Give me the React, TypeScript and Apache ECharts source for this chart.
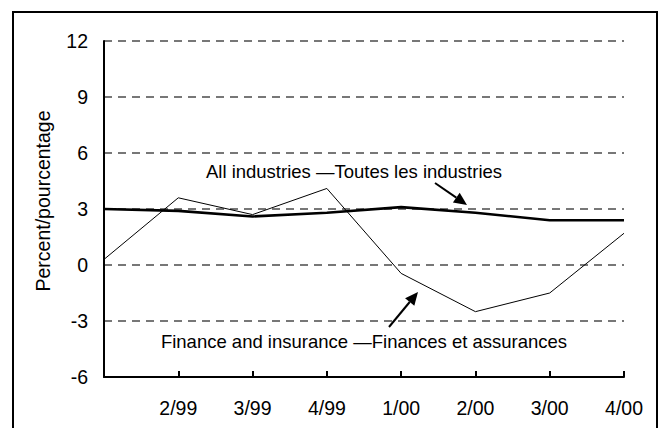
import React, { useEffect, useRef } from "react";
import * as echarts from "echarts";

const categories = ["1/99", "2/99", "3/99", "4/99", "1/00", "2/00", "3/00", "4/00"];
const allIndustries = [3.0, 2.9, 2.6, 2.8, 3.1, 2.8, 2.4, 2.4];
const financeInsurance = [0.3, 3.6, 2.7, 4.1, -0.45, -2.5, -1.5, 1.7];
const yMin = -6;
const yMax = 12;
const yInterval = 3;
const yAxisName = "Percent/pourcentage";
const labelAll = "All industries —Toutes les industries";
const labelFinance = "Finance and insurance —Finances et assurances";

const FONT = "'Liberation Sans', Arial, sans-serif";

function arrow(x1: number, y1: number, x2: number, y2: number) {
  const ang = Math.atan2(y2 - y1, x2 - x1);
  const len = 13;
  const half = 6;
  const bx = x2 - len * Math.cos(ang);
  const by = y2 - len * Math.sin(ang);
  const px = -Math.sin(ang) * half;
  const py = Math.cos(ang) * half;
  return [
    {
      type: "line",
      shape: { x1, y1, x2: bx, y2: by },
      style: { stroke: "#000", lineWidth: 2 },
    },
    {
      type: "polygon",
      shape: {
        points: [
          [x2, y2],
          [bx + px, by + py],
          [bx - px, by - py],
        ],
      },
      style: { fill: "#000" },
    },
  ];
}

export default function App() {
  const ref = useRef<HTMLDivElement>(null);
  useEffect(() => {
    document.body.style.margin = "0";
    const chart = echarts.init(ref.current!, null, { renderer: "svg" });
    chart.setOption({
      animation: false,
      backgroundColor: "#fff",
      grid: { left: 104, right: 41, top: 41, bottom: 51, containLabel: false },
      xAxis: {
        type: "category",
        data: categories,
        boundaryGap: false,
        axisLine: { show: true, onZero: false, lineStyle: { color: "#000", width: 2 } },
        axisTick: { show: true, inside: true, length: 6, lineStyle: { color: "#000", width: 2 } },
        axisLabel: {
          interval: (i: number) => i > 0,
          color: "#000",
          fontFamily: FONT,
          fontSize: 19.5,
          margin: 21,
        },
        splitLine: { show: false },
      },
      yAxis: {
        type: "value",
        min: yMin,
        max: yMax,
        interval: yInterval,
        name: yAxisName,
        nameLocation: "middle",
        nameGap: 51,
        nameTextStyle: {
          color: "#000",
          fontFamily: FONT,
          fontSize: 19.5,
          padding: [0, 0, 0, 16],
        },
        axisLine: { show: true, onZero: false, lineStyle: { color: "#000", width: 2 } },
        axisTick: { show: false },
        axisLabel: { color: "#000", fontFamily: FONT, fontSize: 19.5, margin: 16 },
        splitLine: {
          show: true,
          lineStyle: { color: "#777", width: 2, type: [8, 6] },
        },
      },
      series: [
        {
          name: "All industries",
          type: "line",
          data: allIndustries,
          symbol: "none",
          lineStyle: { color: "#000", width: 2.6 },
          z: 3,
        },
        {
          name: "Finance and insurance",
          type: "line",
          data: financeInsurance,
          symbol: "none",
          lineStyle: { color: "#000", width: 1 },
          z: 2,
        },
      ],
      graphic: [
        {
          type: "rect",
          shape: { x: 13, y: 12, width: 644, height: 440 },
          style: { fill: "none", stroke: "#000", lineWidth: 2 },
          silent: true,
        },
        {
          type: "text",
          x: 354,
          y: 171,
          style: {
            text: labelAll,
            font: `18.5px ${FONT}`,
            fill: "#000",
            align: "center",
            verticalAlign: "middle",
          },
        },
        {
          type: "text",
          x: 364,
          y: 341,
          style: {
            text: labelFinance,
            font: `18.5px ${FONT}`,
            fill: "#000",
            align: "center",
            verticalAlign: "middle",
          },
        },
        ...arrow(435, 183, 467, 205),
        ...arrow(389, 327, 418, 292),
      ],
    });
    return () => chart.dispose();
  }, []);
  return (
    <div
      ref={ref}
      style={{ position: "absolute", left: 0, top: 0, width: 665, height: 428 }}
    />
  );
}
